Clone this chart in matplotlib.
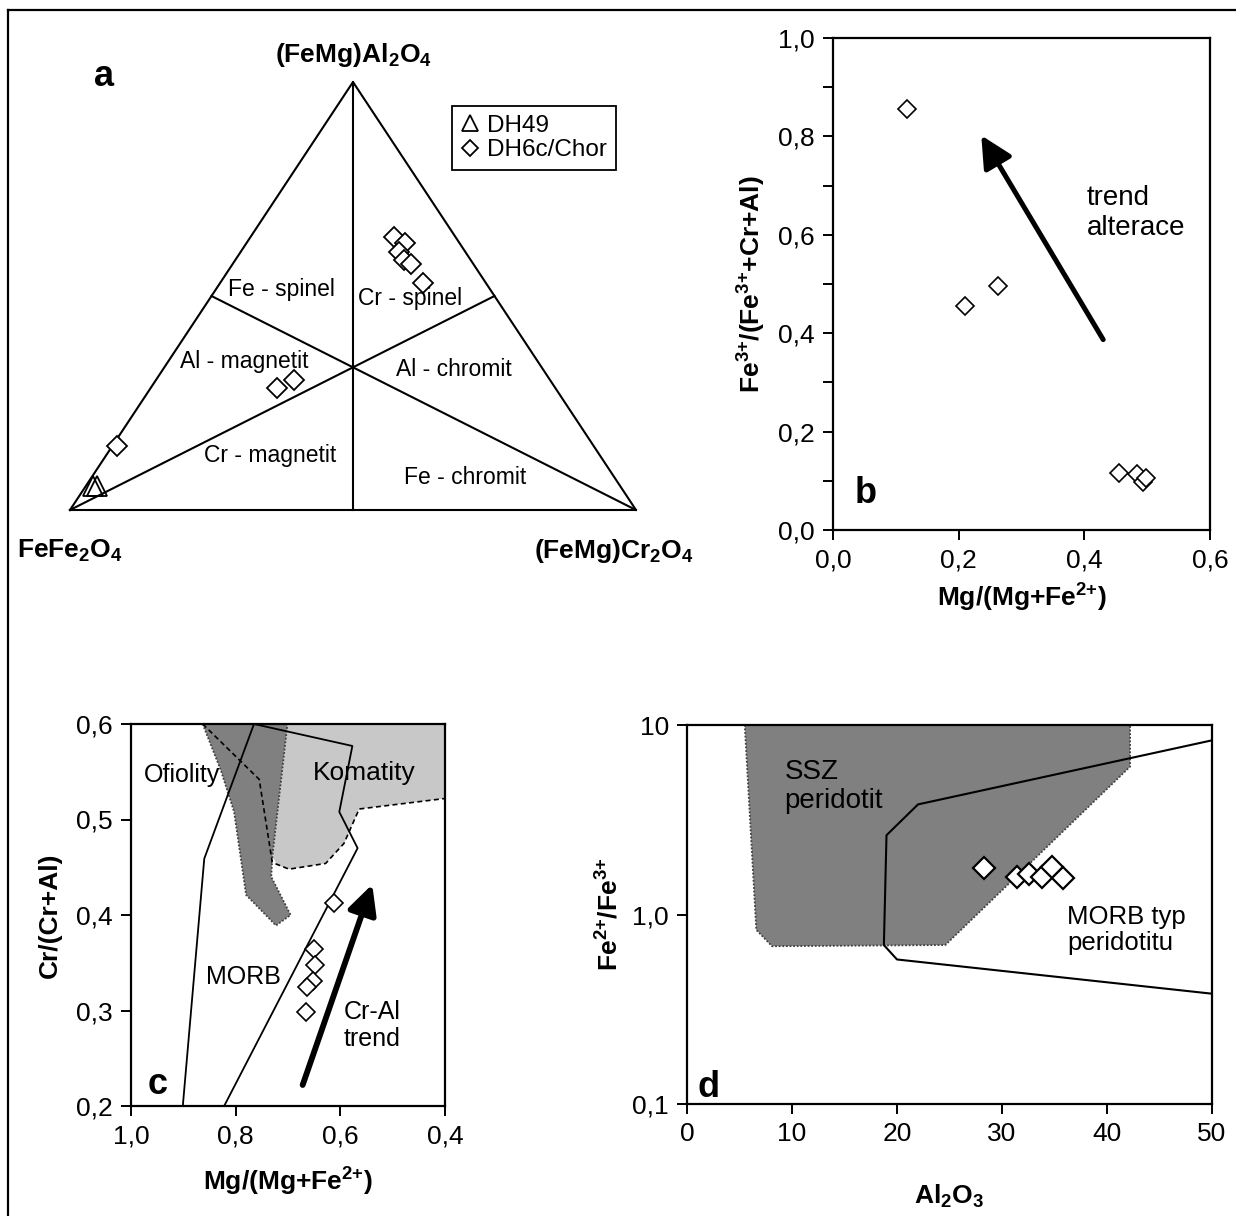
import matplotlib
matplotlib.use("Agg")
import matplotlib.pyplot as plt
from matplotlib.lines import Line2D
from matplotlib.ticker import NullLocator

plt.rcParams['font.family'] = ['Liberation Sans', 'DejaVu Sans']
plt.rcParams['mathtext.default'] = 'regular'

W, H = 1236, 1216

# -------------------- DATA --------------------------------
# a) ternary: fractions Fe3+, Cr, Al
a_dh49_fe = [0.931, 0.925]
a_dh49_cr = [0.013, 0.019]
a_dh49_al = [0.056, 0.056]
a_dh6_fe = [0.109, 0.096, 0.117, 0.118, 0.110, 0.112, 0.492, 0.452, 0.842]
a_dh6_cr = [0.254, 0.280, 0.281, 0.298, 0.315, 0.358, 0.222, 0.244, 0.008]
a_dh6_al = [0.637, 0.624, 0.602, 0.584, 0.575, 0.530, 0.286, 0.304, 0.150]
a_fields = ["Fe - spinel", "Cr - spinel", "Al - magnetit",
            "Al - chromit", "Cr - magnetit", "Fe - chromit"]

# b) Mg# vs Fe3+ ratio
b_mg = [0.117, 0.210, 0.263, 0.455, 0.484, 0.493, 0.498]
b_fe3 = [0.855, 0.456, 0.496, 0.115, 0.113, 0.098, 0.106]
b_xticks = [0.0, 0.2, 0.4, 0.6]
b_yticks = [0.0, 0.2, 0.4, 0.6, 0.8, 1.0]

# c) Mg# vs Cr#
c_mg = [0.612, 0.650, 0.649, 0.653, 0.664, 0.666]
c_cr = [0.413, 0.364, 0.348, 0.331, 0.325, 0.298]
c_ofio_x = [0.863, 0.828, 0.803, 0.780, 0.723, 0.695, 0.732, 0.730, 0.701]
c_ofio_y = [0.600, 0.551, 0.508, 0.421, 0.389, 0.400, 0.440, 0.461, 0.600]
c_koma_x = [0.701, 0.730, 0.720, 0.698, 0.628, 0.593, 0.564, 0.400, 0.400]
c_koma_y = [0.600, 0.461, 0.452, 0.448, 0.454, 0.475, 0.511, 0.522, 0.600]
c_dash_x = [0.863, 0.755, 0.730, 0.698, 0.628, 0.593, 0.564, 0.400]
c_dash_y = [0.600, 0.542, 0.455, 0.448, 0.454, 0.475, 0.511, 0.522]
c_morb_x = [0.901, 0.860, 0.765, 0.577, 0.602, 0.567, 0.822]
c_morb_y = [0.200, 0.459, 0.600, 0.577, 0.508, 0.470, 0.200]
c_xticks = [1.0, 0.8, 0.6, 0.4]
c_yticks = [0.2, 0.3, 0.4, 0.5, 0.6]

# d) Al2O3 vs Fe2+/Fe3+
d_al = [28.3, 31.4, 32.6, 33.8, 34.8, 35.8]
d_fe = [1.77, 1.57, 1.64, 1.57, 1.78, 1.56]
d_ssz_x = [5.5, 42.2, 42.2, 24.6, 8.1, 6.6]
d_ssz_y = [10.0, 10.0, 6.03, 0.69, 0.68, 0.83]
d_morb_x = [50.0, 22.0, 19.0, 18.75, 20.0, 50.0]
d_morb_y = [8.3, 3.81, 2.62, 0.69, 0.579, 0.382]
d_xticks = [0, 10, 20, 30, 40, 50]
d_yticks = [0.1, 1.0, 10.0]
d_ylabels = ["0,1", "1,0", "10"]


def px_rect(left, top, right, bottom):
    return [left / W, 1 - bottom / H, (right - left) / W, (bottom - top) / H]


def tern(fe, cr, al):
    x = [c + a / 2 for c, a in zip(cr, al)]
    return x, list(al)


def comma(v):
    return f"{v:.1f}".replace(".", ",")


def style_axes(ax):
    for s in ax.spines.values():
        s.set_linewidth(1.6)
    ax.tick_params(which='both', direction='out', length=7, width=1.4,
                   labelsize=19, top=False, right=False, pad=6)


fig = plt.figure(figsize=(W / 100, H / 100), dpi=100)

# frame (left + top only)
fig.add_artist(Line2D([8 / W, 8 / W], [0, 1 - 10 / H], transform=fig.transFigure, color='k', lw=1.6))
fig.add_artist(Line2D([8 / W, 1], [1 - 10 / H, 1 - 10 / H], transform=fig.transFigure, color='k', lw=1.6))

# -------------------- a --------------------------------
axa = fig.add_axes(px_rect(70, 82, 636, 510))
axa.set_xlim(0, 1)
axa.set_ylim(0, 1)
axa.axis('off')
lk = dict(color='k', lw=1.5, clip_on=False)
axa.plot([0, 1, 0.5, 0], [0, 0, 1, 0], **lk)
axa.plot([0, 0.75], [0, 0.5], **lk)
axa.plot([1, 0.25], [0, 0.5], **lk)
axa.plot([0.5, 0.5], [1, 0], **lk)

field_pos = [(0.373, 0.516), (0.601, 0.495), (0.307, 0.346),
             (0.678, 0.329), (0.353, 0.128), (0.698, 0.077)]
for name, (x, y) in zip(a_fields, field_pos):
    axa.text(x, y, name, fontsize=16.5, ha='center', va='center')

tx, ty = tern(a_dh49_fe, a_dh49_cr, a_dh49_al)
axa.plot(tx, ty, ls='none', marker='^', ms=14, mfc='none', mec='k', mew=1.3, clip_on=False)
tx, ty = tern(a_dh6_fe, a_dh6_cr, a_dh6_al)
axa.plot(tx, ty, ls='none', marker='D', ms=10, mfc='white', mec='k', mew=1.3, clip_on=False)

axa.text(0.5, 1.063, "(FeMg)Al$_2$O$_4$", fontsize=19, fontweight='bold', ha='center', va='center')
axa.text(0.0, -0.096, "FeFe$_2$O$_4$", fontsize=19, fontweight='bold', ha='center', va='center')
axa.text(0.961, -0.096, "(FeMg)Cr$_2$O$_4$", fontsize=19, fontweight='bold', ha='center', va='center')
axa.text(0.06, 1.014, "a", fontsize=26, fontweight='bold', ha='center', va='center')

handles = [Line2D([], [], ls='none', marker='^', ms=11, mfc='none', mec='k', mew=1.3),
           Line2D([], [], ls='none', marker='D', ms=8, mfc='none', mec='k', mew=1.3)]
leg = fig.legend(handles, ["DH49", "DH6c/Chor"], loc='upper left',
                 bbox_to_anchor=(452 / W, 1 - 106 / H), fontsize=17.5, frameon=True,
                 fancybox=False, edgecolor='k', framealpha=1, borderpad=0.35,
                 handlelength=0.8, handletextpad=0.3, labelspacing=0.12, borderaxespad=0)
leg.get_frame().set_linewidth(1.3)

# -------------------- b --------------------------------
axb = fig.add_axes(px_rect(833, 38, 1210, 530))
axb.plot(b_mg, b_fe3, ls='none', marker='D', ms=9.5, mfc='white', mec='k', mew=1.2)
axb.set_xlim(0, 0.6)
axb.set_ylim(0, 1.0)
axb.set_xticks(b_xticks, [comma(v) for v in b_xticks])
axb.set_yticks(b_yticks, [comma(v) for v in b_yticks])
axb.set_yticks([0.1, 0.3, 0.5, 0.7, 0.9], minor=True)
style_axes(axb)
axb.annotate("", xy=(0.236, 0.802), xytext=(0.43, 0.387),
             arrowprops=dict(arrowstyle='-|>', color='k', lw=3.6, mutation_scale=48,
                             shrinkA=0, shrinkB=0))
axb.text(0.404, 0.645, "trend\nalterace", fontsize=20, ha='left', va='center', linespacing=1.2)
axb.text(0.035, 0.075, "b", fontsize=26, fontweight='bold', ha='left', va='center')
axb.set_xlabel("Mg/(Mg+Fe$^{2{+}}$)", fontsize=19, fontweight='bold', va='center')
axb.set_ylabel("Fe$^{3{+}}$/(Fe$^{3{+}}$+Cr+Al)", fontsize=19, fontweight='bold', va='center')
axb.xaxis.set_label_coords(0.5, -0.138)
axb.yaxis.set_label_coords(-0.215, 0.5)

# -------------------- c --------------------------------
axc = fig.add_axes(px_rect(131, 724, 445, 1106))
axc.fill(c_koma_x, c_koma_y, color='#c8c8c8', lw=0)
axc.fill(c_ofio_x, c_ofio_y, color='#808080', lw=0)
axc.plot(c_ofio_x, c_ofio_y, color='#404040', ls=(0, (1, 1)), lw=1.3)
axc.plot(c_koma_x[-2:] + c_koma_x[:1], c_koma_y[-2:] + c_koma_y[:1], color='#404040', ls=(0, (1, 1)), lw=1.3)
axc.plot(c_dash_x, c_dash_y, color='k', ls=(0, (3, 2)), lw=1.2)
axc.plot(c_morb_x, c_morb_y, color='k', lw=1.3)
axc.plot(c_mg, c_cr, ls='none', marker='D', ms=9, mfc='white', mec='k', mew=1.2)
axc.set_xlim(1.0, 0.4)
axc.set_ylim(0.2, 0.6)
axc.set_xticks(c_xticks, [comma(v) for v in c_xticks])
axc.set_yticks(c_yticks, [comma(v) for v in c_yticks])
style_axes(axc)
axc.annotate("", xy=(0.539, 0.432), xytext=(0.672, 0.222),
             arrowprops=dict(arrowstyle='-|>', color='k', lw=4.2, mutation_scale=44,
                             shrinkA=0, shrinkB=0))
axc.text(0.975, 0.547, "Ofiolity", fontsize=18, ha='left', va='center')
axc.text(0.653, 0.549, "Komatity", fontsize=19, ha='left', va='center')
axc.text(0.857, 0.335, "MORB", fontsize=18, ha='left', va='center')
axc.text(0.593, 0.284, "Cr-Al\ntrend", fontsize=18, ha='left', va='center', linespacing=1.15)
axc.text(0.968, 0.222, "c", fontsize=26, fontweight='bold', ha='left', va='center')
axc.set_xlabel("Mg/(Mg+Fe$^{2{+}}$)", fontsize=19, fontweight='bold', va='center')
axc.set_ylabel("Cr/(Cr+Al)", fontsize=19, fontweight='bold', va='center')
axc.xaxis.set_label_coords(0.5, -0.2)
axc.yaxis.set_label_coords(-0.258, 0.5)

# -------------------- d --------------------------------
axd = fig.add_axes(px_rect(687, 725, 1212, 1104))
axd.set_yscale('log')
axd.fill(d_ssz_x, d_ssz_y, color='#808080', lw=0)
axd.plot(d_ssz_x + d_ssz_x[:1], d_ssz_y + d_ssz_y[:1], color='#404040', ls=(0, (1, 1)), lw=1.3)
axd.plot(d_morb_x, d_morb_y, color='k', lw=1.5)
axd.plot(d_al, d_fe, ls='none', marker='D', ms=11, mfc='white', mec='k', mew=1.6)
axd.set_xlim(0, 50)
axd.set_ylim(0.1, 10)
axd.set_xticks(d_xticks, [str(v) for v in d_xticks])
axd.set_yticks(d_yticks, d_ylabels)
axd.yaxis.set_minor_locator(NullLocator())
style_axes(axd)
axd.text(9.3, 4.75, "SSZ\nperidotit", fontsize=20, ha='left', va='center', linespacing=1.15)
axd.text(36.2, 0.83, "MORB typ\nperidotitu", fontsize=18.5, ha='left', va='center', linespacing=1.1)
axd.text(1.0, 0.122, "d", fontsize=26, fontweight='bold', ha='left', va='center')
axd.set_xlabel("Al$_2$O$_3$", fontsize=19, fontweight='bold', va='center')
axd.set_ylabel("Fe$^{2{+}}$/Fe$^{3{+}}$", fontsize=19, fontweight='bold', va='center')
axd.xaxis.set_label_coords(0.5, -0.243)
axd.yaxis.set_label_coords(-0.147, 0.5)

fig.savefig("out.png", dpi=100)
